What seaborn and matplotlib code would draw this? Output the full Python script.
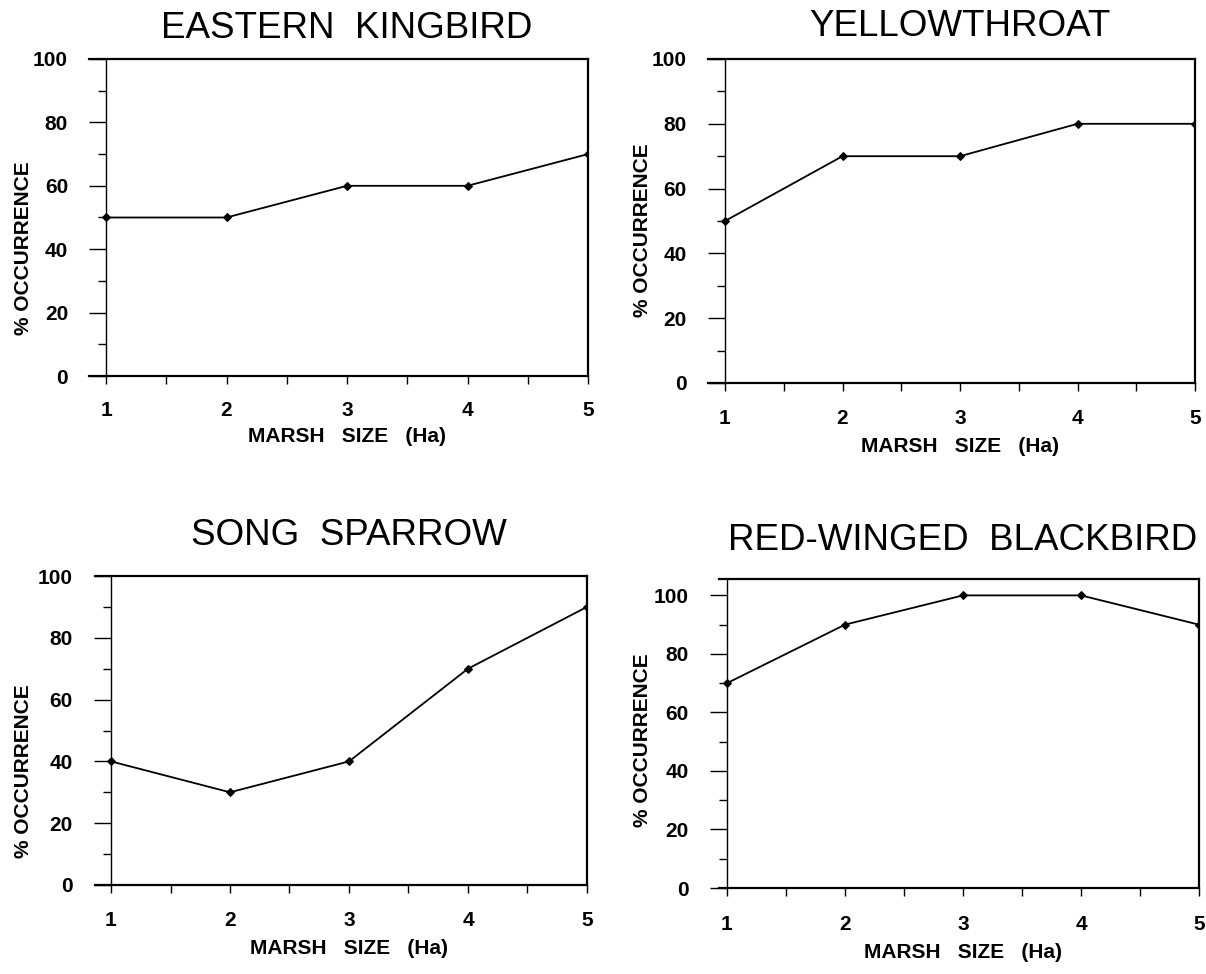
import matplotlib
matplotlib.use("Agg")
import matplotlib.pyplot as plt
import seaborn as sns
from matplotlib.ticker import FixedLocator

# ---- data ----
marsh_size = [1, 2, 3, 4, 5]
eastern_kingbird = [50, 50, 60, 60, 70]
yellowthroat = [50, 70, 70, 80, 80]
song_sparrow = [40, 30, 40, 70, 90]
red_winged_blackbird = [70, 90, 100, 100, 90]
titles = ["EASTERN  KINGBIRD", "YELLOWTHROAT", "SONG  SPARROW", "RED-WINGED  BLACKBIRD"]
x_ticks = [1, 2, 3, 4, 5]
x_minor = [1.5, 2.5, 3.5, 4.5]
y_ticks = [0, 20, 40, 60, 80, 100]
y_minor = [10, 30, 50, 70, 90]
x_label = "MARSH   SIZE   (Ha)"
y_label = "% OCCURRENCE"

sns.set_style("ticks")
plt.rcParams['font.family'] = ['Liberation Sans', 'DejaVu Sans']
for k in ['text.color', 'axes.labelcolor', 'xtick.color', 'ytick.color', 'axes.edgecolor']:
    plt.rcParams[k] = 'black'

W, H = 1206, 974
fig = plt.figure(figsize=(W / 100, H / 100), dpi=100)

panels = [
    dict(series=eastern_kingbird, title=titles[0], left=89, x1=106, right=588, top=59, bottom=376,
         ymax=100, title_y=25, ylab_x=24, ylab_y=248, xlab_y=436, tick_y=408),
    dict(series=yellowthroat, title=titles[1], left=708, x1=725, right=1195, top=59, bottom=383,
         ymax=100, title_y=23, ylab_x=642, ylab_y=230, xlab_y=446, tick_y=417),
    dict(series=song_sparrow, title=titles[2], left=95, x1=111, right=587, top=576, bottom=885,
         ymax=100, title_y=532, ylab_x=23, ylab_y=771, xlab_y=949, tick_y=919),
    dict(series=red_winged_blackbird, title=titles[3], left=719, x1=727, right=1199, top=579, bottom=888,
         ymax=105.6, title_y=537, ylab_x=643, ylab_y=740, xlab_y=952, tick_y=922),
]

PX = 0.72  # points per pixel at dpi 100
TITLE_PT = 26.5
title_cap_px = TITLE_PT / PX * 0.716

for p in panels:
    w = p['right'] - p['left']
    h = p['bottom'] - p['top']
    ax = fig.add_axes([p['left'] / W, 1 - p['bottom'] / H, w / W, h / H])
    unit = (p['right'] - p['x1']) / 4.0
    xmin = 1 - (p['x1'] - p['left']) / unit
    sns.lineplot(x=marsh_size, y=p['series'], ax=ax, color='black', marker='D',
                 markersize=4, markeredgecolor='black', linewidth=1.3)
    ax.set_xlim(xmin, 5)
    ax.set_ylim(0, p['ymax'])
    ax.spines['left'].set_position(('data', 1))
    for s in ['top', 'bottom', 'right']:
        ax.spines[s].set_linewidth(1.6)
    ax.spines['left'].set_linewidth(1.0)

    ax.xaxis.set_major_locator(FixedLocator(x_ticks))
    ax.xaxis.set_minor_locator(FixedLocator(x_minor))
    ax.yaxis.set_major_locator(FixedLocator(y_ticks))
    ax.yaxis.set_minor_locator(FixedLocator(y_minor))
    ax.set_xticklabels([str(v) for v in x_ticks], fontsize=15, fontweight='bold')
    ax.set_yticklabels([str(v) for v in y_ticks], fontsize=15, fontweight='bold')

    xpad = (p['tick_y'] - 7.5 - p['bottom'] - 8) * PX
    ax.tick_params(axis='x', which='both', direction='out', length=8 * PX, width=1.0, pad=xpad)
    ax.tick_params(axis='y', which='major', direction='out', length=17 * PX, width=1.0,
                   pad=(38 - 17) * PX)
    ax.tick_params(axis='y', which='minor', direction='out', length=8 * PX, width=1.0)

    xc = (3 - xmin) / (5 - xmin)
    base_px = p['title_y'] + title_cap_px / 2
    ax.text(xc, 1 + (p['top'] - base_px) / h, p['title'], transform=ax.transAxes,
            ha='center', va='baseline', fontsize=TITLE_PT, color='black')
    ax.set_xlabel(x_label, fontsize=15, fontweight='bold')
    ax.xaxis.set_label_coords(xc, -(p['xlab_y'] - p['bottom']) / h)
    ax.xaxis.label.set_va('center')
    ax.set_ylabel(y_label, fontsize=15, fontweight='bold')
    ax.yaxis.set_label_coords((p['ylab_x'] - p['left']) / w, (p['bottom'] - p['ylab_y']) / h)
    ax.yaxis.label.set_va('center')

fig.savefig("out.png", dpi=100, facecolor='white')
